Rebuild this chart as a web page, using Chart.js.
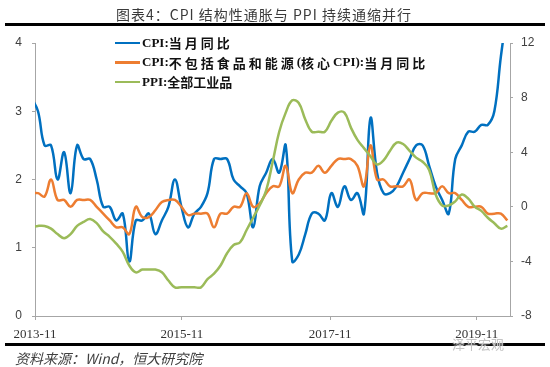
<!DOCTYPE html>
<html lang="zh">
<head>
<meta charset="utf-8">
<title>CPI 结构性通胀与 PPI 持续通缩并行</title>
<script src="https://cdn.jsdelivr.net/npm/chart.js@4.4.1/dist/chart.umd.min.js"></script>
<style>
  html, body { margin: 0; padding: 0; background: #fff; }
  #wrap { position: relative; width: 550px; height: 367px; overflow: hidden; font-family: "Noto Sans CJK SC", sans-serif; }
  #chart { position: absolute; left: 0; top: 0; }
  .title { position: absolute; left: -11px; top: 4px; width: 550px; line-height: 20px; text-align: center; font-size: 14px; color: #3a3a3a; letter-spacing: 1px; }
  .rule { position: absolute; left: 5px; right: 5px; background: #000; }
  .rule.top { top: 23px; height: 3px; }
  .rule.bottom { top: 343px; height: 2.5px; }
  .source { position: absolute; left: 15px; top: 349px; line-height: 18px; font-size: 14px; font-style: italic; color: #404040; }
  .mark { position: absolute; left: 452px; top: 335px; line-height: 18px; font-size: 13px; color: #c4c4c4; text-shadow: 0 0 2px #fff; }
  .legend { position: absolute; left: 115px; top: 33px; }
  .legend .row { height: 19.5px; display: flex; align-items: center; font: bold 13px "Liberation Serif", "Noto Sans CJK SC", serif; color: #111; white-space: pre; }
  .legend .cjk { letter-spacing: 3px; }
  .legend .row.tight .cjk { letter-spacing: 0; }
  .legend .swatch { width: 25px; height: 2.5px; margin-right: 2px; }
</style>
</head>
<body>
<div id="wrap">
  <canvas id="chart" width="550" height="367"></canvas>
  <div class="title">图表4：CPI 结构性通胀与 PPI 持续通缩并行</div>
  <div class="rule top"></div>
  <div class="legend" id="legend"></div>
  <div class="rule bottom"></div>
  <div class="source">资料来源：Wind，恒大研究院</div>
  <div class="mark">泽平宏观</div>
</div>
<script>
// ── Data (monthly, starting 2013-10) ──────────────────────────────────────────
const startYear = 2013, startMon = 10;

const cpi = [
  3.2, 3.0, 2.5,
  2.5, 2.0, 2.4, 1.8, 2.5, 2.3, 2.3, 2.0, 1.6, 1.6, 1.4, 1.5,
  0.8, 1.4, 1.4, 1.5, 1.2, 1.4, 1.6, 2.0, 1.6, 1.3, 1.5, 1.6,
  1.8, 2.3, 2.3, 2.3, 2.0, 1.9, 1.8, 1.3, 1.9, 2.1, 2.3, 2.1,
  2.5, 0.8, 0.9, 1.2, 1.5, 1.5, 1.4, 1.8, 1.6, 1.9, 1.7, 1.8,
  1.5, 2.9, 2.1, 1.8, 1.8, 1.9, 2.1, 2.3, 2.5, 2.5, 2.2, 1.9,
  1.7, 1.5, 2.3, 2.5, 2.7, 2.7, 2.8, 2.8, 3.0, 3.8, 4.5
];

const coreCpi = [
  1.8, 1.8, 1.75,
  2.0, 1.7, 1.7, 1.6, 1.7, 1.7, 1.7, 1.6, 1.5, 1.4, 1.3, 1.3,
  1.2, 1.6, 1.45, 1.45, 1.55, 1.67, 1.7, 1.7, 1.6, 1.48, 1.5, 1.5,
  1.5, 1.3, 1.5, 1.5, 1.6, 1.6, 1.8, 1.6, 1.65, 1.8, 1.9, 1.9,
  2.2, 1.8, 2.0, 2.1, 2.1, 2.2, 2.1, 2.2, 2.3, 2.3, 2.3, 2.2,
  1.9, 2.5, 2.0, 2.0, 1.9, 1.9, 1.9, 2.0, 1.7, 1.8, 1.8, 1.8,
  1.9, 1.8, 1.8, 1.7, 1.6, 1.6, 1.6, 1.5, 1.5, 1.5, 1.4
];

const ppi = [
  -1.5, -1.4, -1.4,
  -1.6, -2.0, -2.3, -2.0, -1.4, -1.1, -0.9, -1.2, -1.8, -2.2, -2.7, -3.3,
  -4.3, -4.8, -4.6, -4.6, -4.6, -4.8, -5.4, -5.9, -5.9, -5.9, -5.9, -5.9,
  -5.3, -4.9, -4.3, -3.4, -2.8, -2.6, -1.7, -0.8, 0.1, 1.2, 3.3, 5.5,
  6.9, 7.8, 7.6, 6.4, 5.5, 5.5, 5.5, 6.3, 6.9, 6.9, 5.8, 4.9,
  4.3, 3.7, 3.1, 3.4, 4.1, 4.7, 4.6, 4.1, 3.6, 3.3, 2.7, 0.9,
  0.1, 0.1, 0.4, 0.9, 0.6, 0.0, -0.3, -0.8, -1.2, -1.6, -1.4
];

const seriesNames = ['CPI:当月同比', 'CPI:不包括食品和能源(核心CPI):当月同比', 'PPI:全部工业品'];
const seriesColors = ['#0070C0', '#ED7D31', '#9BBB59'];
const xTickLabels = ['2013-11', '2015-11', '2017-11', '2019-11'];

// month labels (used for tooltips), x position = month index
const months = cpi.map((_, i) => {
  const m = startMon - 1 + i;
  return `${startYear + Math.floor(m / 12)}-${String(m % 12 + 1).padStart(2, '0')}`;
});

// ── Chart ─────────────────────────────────────────────────────────────────────
const axisGrey = '#a6a6a6';
const tickFont = { family: 'Liberation Sans, Arial, sans-serif', size: 12 };

function line(i, data, axis, order) {
  return {
    label: seriesNames[i],
    data,
    yAxisID: axis,
    order,
    borderColor: seriesColors[i],
    backgroundColor: seriesColors[i],
    borderWidth: 2.5,
    pointRadius: 0,
    tension: 0.4,
    fill: false,
  };
}

const chart = new Chart(document.getElementById('chart'), {
  type: 'line',
  data: {
    labels: months.map((_, i) => i),
    datasets: [
      line(0, cpi, 'y', 2),
      line(1, coreCpi, 'y', 1),
      line(2, ppi, 'y1', 0),
    ]
  },
  options: {
    responsive: false,
    animation: false,
    layout: { padding: { top: 43, left: 0, right: 0, bottom: 0 } },
    plugins: {
      legend: { display: false },
      tooltip: { callbacks: { title: items => months[items[0].dataIndex] } }
    },
    scales: {
      x: {
        type: 'linear',
        min: 0.54,
        max: 73.4,
        afterFit: s => { s.height = 51; },
        afterBuildTicks: s => { s.ticks = [0.54, 23.08, 45.8, 68.3].map(v => ({ value: v })); },
        ticks: {
          autoSkip: false, maxRotation: 0, padding: 7,
          font: { family: 'Liberation Serif, serif', size: 13 }, color: '#333',
          callback: (v, i) => xTickLabels[i]
        },
        grid: { drawOnChartArea: false, tickLength: 4, color: axisGrey },
        border: { color: axisGrey }
      },
      y: {
        position: 'left',
        min: 0, max: 4,
        afterFit: s => { s.width = 35; },
        ticks: { stepSize: 1, padding: 10, font: tickFont, color: '#404040' },
        grid: { drawOnChartArea: false, tickLength: 3, color: axisGrey },
        border: { color: axisGrey }
      },
      y1: {
        position: 'right',
        min: -8, max: 12,
        afterFit: s => { s.width = 40; },
        ticks: { stepSize: 4, padding: 8, font: tickFont, color: '#404040' },
        grid: { drawOnChartArea: false, tickLength: 3, color: axisGrey },
        border: { color: axisGrey }
      }
    }
  }
});

// ── Legend (inside plot area) ─────────────────────────────────────────────────
const cjkRun = /([\u4e00-\u9fff]+)/g;
document.getElementById('legend').innerHTML = chart.data.datasets.map(ds => `
  <div class="row${ds.yAxisID === 'y1' ? ' tight' : ''}"><span class="swatch" style="background:${ds.borderColor}"></span>${ds.label.replace(cjkRun, '<span class="cjk">$1</span>')}</div>
`).join('');
</script>
</body>
</html>
